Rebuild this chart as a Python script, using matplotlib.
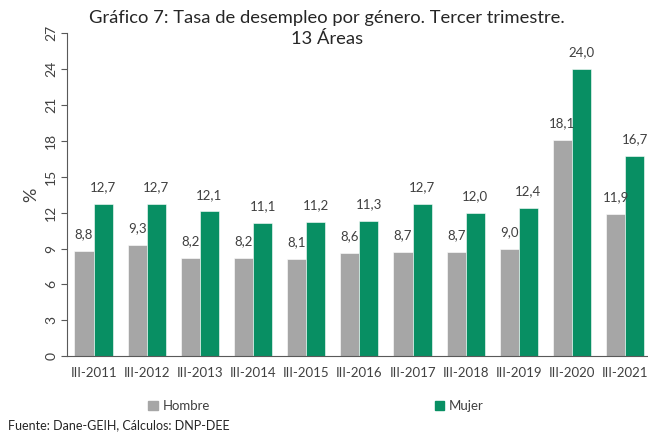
import numpy as np
import matplotlib.pyplot as plt
from matplotlib.patches import Patch

periodos = ['III-2011', 'III-2012', 'III-2013', 'III-2014', 'III-2015', 'III-2016',
            'III-2017', 'III-2018', 'III-2019', 'III-2020', 'III-2021']
hombre = [8.8, 9.3, 8.2, 8.2, 8.1, 8.6, 8.7, 8.7, 9.0, 18.1, 11.9]
mujer = [12.7, 12.7, 12.1, 11.1, 11.2, 11.3, 12.7, 12.0, 12.4, 24.0, 16.7]
yticks = [0, 3, 6, 9, 12, 15, 18, 21, 24, 27]

gris = '#A6A6A6'
verde = '#088F63'
texto = '#404040'

plt.rcParams['font.family'] = ['Lato', 'DejaVu Sans']

fig = plt.figure(figsize=(6.48, 4.37), dpi=100)
ax = fig.add_axes([67/648, 0.185, 581/648, 0.739])

x = np.arange(len(periodos))
w = 0.36
b1 = ax.bar(x - w/2, hombre, w, color=gris, edgecolor='white', linewidth=0.4)
b2 = ax.bar(x + w/2, mujer, w, color=verde, edgecolor='white', linewidth=0.4)

def fmt(v):
    return f'{v:.1f}'.replace('.', ',')

for bars, vals in ((b1, hombre), (b2, mujer)):
    for r, v in zip(bars, vals):
        ax.text(r.get_x() + r.get_width()/2, v + 0.9, fmt(v), ha='center', va='bottom',
                fontsize=9.5, color=texto)

ax.set_xlim(-0.5, 10.43)
ax.set_ylim(0, 27)
ax.set_yticks(yticks)
ax.set_yticklabels([str(t) for t in yticks], rotation=90, va='center')
ax.set_xticks(x)
ax.set_xticklabels(periodos)
ax.tick_params(axis='x', length=0, pad=8, labelsize=9.5, colors=texto)
ax.tick_params(axis='y', direction='out', length=4, width=0.8, labelsize=10,
               colors='#595959', labelcolor=texto, pad=3)
for s in ['top', 'right']:
    ax.spines[s].set_visible(False)
ax.spines['left'].set_color('#595959')
ax.spines['bottom'].set_color('#595959')
ax.set_ylabel('%', fontsize=13, color=texto, labelpad=4)

fig.text(0.505, 0.978, 'Gráfico 7: Tasa de desempleo por género. Tercer trimestre.\n13 Áreas',
         ha='center', va='top', fontsize=13.2, color='#262626', linespacing=1.45)

handles = [Patch(color=gris, label='Hombre'), Patch(color=verde, label='Mujer')]
fig.legend(handles=handles, loc='center', bbox_to_anchor=(0.488, 0.07), ncol=2,
           frameon=False, fontsize=9.5, columnspacing=17, handlelength=0.7,
           handleheight=0.7, handletextpad=0.4, labelcolor=texto)

fig.text(8/648, 0.028, 'Fuente: Dane-GEIH, Cálculos: DNP-DEE', fontsize=9,
         color='#262626', va='center')

fig.savefig('out.png', dpi=100)
